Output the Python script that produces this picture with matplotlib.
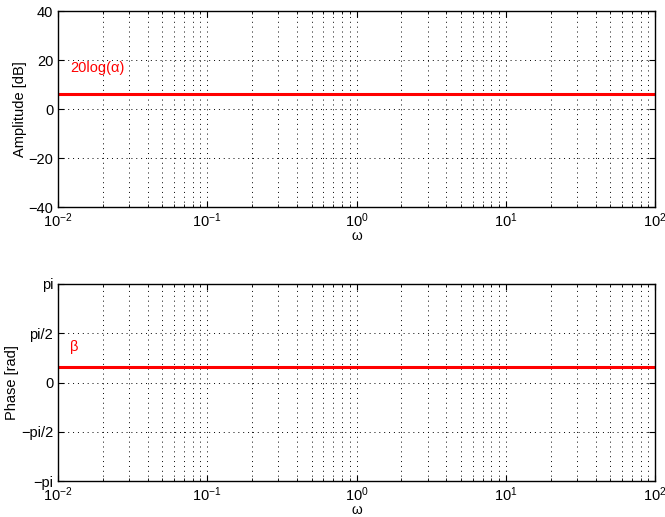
import numpy as np
import matplotlib
matplotlib.use("Agg")
import matplotlib.pyplot as plt
from matplotlib.ticker import LogLocator, FixedLocator

plt.rcParams['font.family'] = ['Liberation Sans', 'DejaVu Sans']

omega = [1e-2, 1e2]
amp_db = [6.02, 6.02]
phase = [0.5, 0.5]
amp_ticks = [-40, -20, 0, 20, 40]
phase_ticks = [-np.pi, -np.pi/2, 0, np.pi/2, np.pi]
phase_labels = ['\u2212pi', '\u2212pi/2', '0', 'pi/2', 'pi']

fig = plt.figure(figsize=(6.65, 5.17), dpi=100)
ax1 = fig.add_axes([0.0872, 0.5996, 0.8978, 0.3791])
ax2 = fig.add_axes([0.0872, 0.0696, 0.8978, 0.3811])

grid_kw = dict(color='black', linestyle=(0, (1, 4)), linewidth=0.7)

for ax in (ax1, ax2):
    ax.set_xscale('log')
    ax.set_xlim(1e-2, 1e2)
    ax.xaxis.set_major_locator(LogLocator(base=10, numticks=10))
    ax.xaxis.set_minor_locator(LogLocator(base=10, subs=np.arange(2, 10), numticks=20))
    ax.grid(True, which='major', axis='both', **grid_kw)
    ax.grid(True, which='minor', axis='x', **grid_kw)
    ax.tick_params(which='both', direction='in', top=True, right=True, labelsize=10.5)
    ax.tick_params(which='major', length=4)
    ax.tick_params(which='minor', length=2)
    ax.tick_params(axis='x', which='major', pad=3.5)
    ax.set_xlabel('\u03c9', fontsize=10, labelpad=-1)
    for s in ax.spines.values():
        s.set_linewidth(1.0)

ax1.plot(omega, amp_db, color='red', linewidth=2.2)
ax1.set_ylim(-40, 40)
ax1.yaxis.set_major_locator(FixedLocator(amp_ticks))
ax1.set_ylabel('Amplitude [dB]', fontsize=10.5, labelpad=1)
ax1.text(0.012, 15, '20log(\u03b1)', color='red', fontsize=10.5)

ax2.plot(omega, phase, color='red', linewidth=2.2)
ax2.set_ylim(-np.pi, np.pi)
ax2.set_yticks(phase_ticks)
ax2.set_yticklabels(phase_labels)
ax2.set_ylabel('Phase [rad]', fontsize=10.5, labelpad=1)
ax2.text(0.012, 1.0, '\u03b2', color='red', fontsize=10.5)

fig.savefig('out.png', dpi=100)
